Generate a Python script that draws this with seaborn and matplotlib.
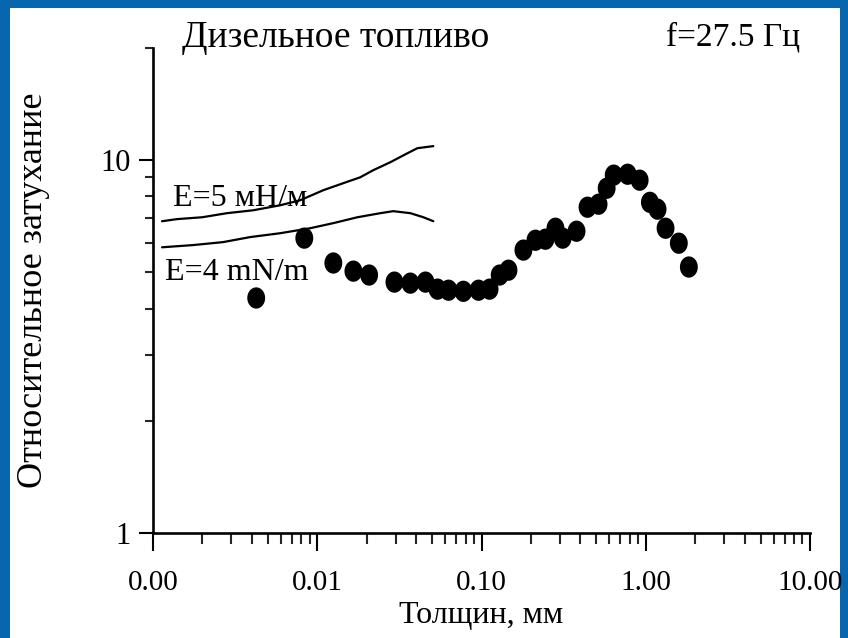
import numpy as np
import pandas as pd
import matplotlib
matplotlib.use("Agg")
import matplotlib.pyplot as plt
import matplotlib.ticker as mticker
from matplotlib.patches import Rectangle
from matplotlib.path import Path
import seaborn as sns

# ---- data ----
thickness_mm = [0.00425, 0.00834, 0.01253, 0.0166, 0.0207, 0.0295, 0.0369, 0.0456,
                0.0540, 0.0630, 0.0776, 0.0959, 0.112, 0.129, 0.146, 0.180,
                0.213, 0.245, 0.282, 0.312, 0.379, 0.442, 0.516, 0.578,
                0.638, 0.776, 0.918, 1.06, 1.18, 1.32, 1.59, 1.83]
attenuation = [4.27, 6.18, 5.30, 5.04, 4.92, 4.71, 4.68, 4.71,
               4.51, 4.48, 4.45, 4.48, 4.51, 4.92, 5.07, 5.74,
               6.10, 6.14, 6.57, 6.18, 6.45, 7.48, 7.62, 8.41,
               9.12, 9.17, 8.84, 7.71, 7.39, 6.57, 5.99, 5.17]

e5_x = [0.001135, 0.0014, 0.00199, 0.00282, 0.00407, 0.00594, 0.00787, 0.01089,
        0.01443, 0.01828, 0.0219, 0.0279, 0.0354, 0.0407, 0.0509]
e5_y = [6.86, 6.95, 7.03, 7.21, 7.34, 7.57, 7.81, 8.31,
        8.68, 9.00, 9.40, 9.88, 10.44, 10.77, 10.91]

e4_x = [0.001135, 0.00175, 0.00267, 0.0039, 0.00594, 0.00906, 0.01253, 0.01754,
        0.0242, 0.0290, 0.0369, 0.0443, 0.0509]
e4_y = [5.84, 5.92, 6.03, 6.22, 6.37, 6.57, 6.78, 7.03,
        7.21, 7.30, 7.21, 7.03, 6.86]

x_ticks = [0.001, 0.01, 0.1, 1, 10]
y_ticks = [1, 10]

title_text = "Дизельное топливо"
freq_text = "f=27.5 Гц"
xlabel_text = "Толщин, мм"
ylabel_text = "Относительное затухание"
label_e5 = "E=5 мН/м"
label_e4 = "E=4 mN/m"

# ---- style ----
sns.set_style("ticks")
plt.rcParams["font.family"] = ["Liberation Serif", "DejaVu Serif"]

W, H = 848, 638
fig = plt.figure(figsize=(W / 100, H / 100), dpi=100)
fig.patch.set_facecolor("#0866AE")
fig.patches.append(Rectangle((10 / W, 0), (840 - 10) / W, 1 - 8 / H,
                             transform=fig.transFigure, facecolor="white",
                             edgecolor="none", zorder=-10))

ax = fig.add_axes([153 / W, 1 - 533 / H, (810 - 153) / W, (533 - 48) / H])
ax.patch.set_alpha(0)

# slightly tall elliptical dot, like the original markers
_t = np.linspace(0, 2 * np.pi, 40)
oval = Path(np.column_stack([0.84 * np.cos(_t), np.sin(_t)]))

df_pts = pd.DataFrame({"x": thickness_mm, "y": attenuation})
df_e5 = pd.DataFrame({"x": e5_x, "y": e5_y})
df_e4 = pd.DataFrame({"x": e4_x, "y": e4_y})

sns.lineplot(data=df_e5, x="x", y="y", ax=ax, color="black", lw=1.6,
             sort=False, estimator=None)
sns.lineplot(data=df_e4, x="x", y="y", ax=ax, color="black", lw=1.6,
             sort=False, estimator=None)
sns.scatterplot(data=df_pts, x="x", y="y", ax=ax, color="black", s=235,
                marker=oval, edgecolor="none", linewidth=0, zorder=3)

ax.set_xscale("log")
ax.set_yscale("log")
ax.set_xlim(0.001, 10)
ax.set_ylim(1, 20)

ax.xaxis.set_major_locator(mticker.FixedLocator(x_ticks))
ax.xaxis.set_major_formatter(mticker.FormatStrFormatter("%.2f"))
ax.xaxis.set_minor_locator(mticker.LogLocator(base=10, subs=np.arange(2, 10)))
ax.xaxis.set_minor_formatter(mticker.NullFormatter())
ax.yaxis.set_major_locator(mticker.FixedLocator(y_ticks))
ax.yaxis.set_major_formatter(mticker.FormatStrFormatter("%g"))
ax.yaxis.set_minor_locator(mticker.LogLocator(base=10, subs=np.arange(2, 10)))
ax.yaxis.set_minor_formatter(mticker.NullFormatter())

for s in ["top", "right"]:
    ax.spines[s].set_visible(False)
for s in ["left", "bottom"]:
    ax.spines[s].set_linewidth(1.9)
    ax.spines[s].set_color("black")

ax.tick_params(axis="x", which="major", direction="out", length=13, width=1.5,
               labelsize=21, pad=14, colors="black")
ax.tick_params(axis="x", which="minor", direction="out", length=8, width=1.5)
ax.tick_params(axis="y", which="major", direction="out", length=10, width=1.5,
               labelsize=22, pad=6, colors="black")
ax.tick_params(axis="y", which="minor", direction="out", length=6, width=1.5)

ax.set_xlabel(xlabel_text, fontsize=23, labelpad=3, color="black")
ax.set_ylabel(ylabel_text, fontsize=26, color="black")
ax.yaxis.set_label_coords(-(153 - 50) / (810 - 153), 0.5)

ax.text(0.001325, 7.53, label_e5, fontsize=23, ha="left", va="baseline", color="black")
ax.text(0.00118, 4.77, label_e4, fontsize=23, ha="left", va="baseline", color="black")

fig.text(336 / W, 1 - 47 / H, title_text, fontsize=27, ha="center", va="baseline",
         color="black")
fig.text(666 / W, 1 - 45 / H, freq_text, fontsize=24, ha="left", va="baseline",
         color="black")

fig.savefig("out.png", dpi=100, facecolor=fig.get_facecolor())
